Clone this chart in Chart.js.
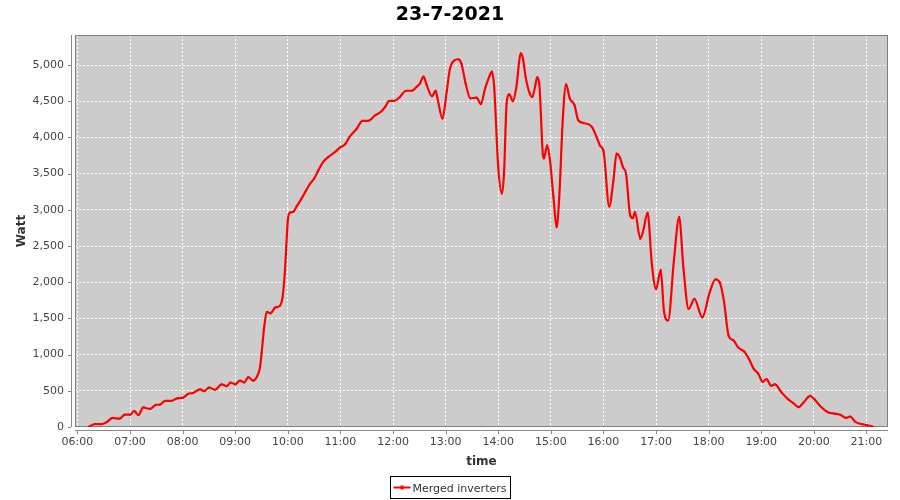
<!DOCTYPE html>
<html>
<head>
<meta charset="utf-8">
<script src="https://cdn.jsdelivr.net/npm/chart.js@4"></script>
<style>
  html, body { margin: 0; padding: 0; background: #fff; }
  canvas { display: block; }
</style>
</head>
<body>
<canvas id="chart" width="900" height="500"></canvas>
<script>
  var TITLE = "23-7-2021";
  var SERIES = "Merged inverters";
  var X_LABEL = "time";
  var Y_LABEL = "Watt";

  // time of day in hours
  var hours = [
    6.22, 6.33, 6.46, 6.56, 6.67, 6.80, 6.90, 7.00, 7.08, 7.16, 7.25, 7.38, 7.49, 7.57, 7.67, 7.79, 7.89,
    8.01, 8.11, 8.20, 8.33, 8.41, 8.50, 8.62, 8.74, 8.84, 8.91, 9.00, 9.09, 9.17, 9.25, 9.34, 9.42, 9.47,
    9.50, 9.55, 9.60, 9.67, 9.76, 9.85, 9.90, 9.94, 9.97, 10.00, 10.04, 10.10, 10.17, 10.26, 10.33, 10.42,
    10.50, 10.58, 10.67, 10.77, 10.90, 10.99, 11.09, 11.17, 11.31, 11.42, 11.53, 11.66, 11.77, 11.85, 11.93,
    12.02, 12.12, 12.25, 12.36, 12.45, 12.51, 12.58, 12.64, 12.74, 12.81, 12.84, 12.94, 13.02, 13.08, 13.16,
    13.24, 13.30, 13.38, 13.47, 13.59, 13.67, 13.75, 13.83, 13.88, 13.92, 14.00, 14.07, 14.11, 14.16, 14.21,
    14.28, 14.34, 14.43, 14.47, 14.52, 14.60, 14.65, 14.70, 14.74, 14.78, 14.85, 14.87, 14.93, 14.98, 15.05,
    15.11, 15.16, 15.23, 15.29, 15.36, 15.45, 15.52, 15.62, 15.78, 15.87, 15.94, 16.00, 16.11, 16.19, 16.25,
    16.32, 16.37, 16.43, 16.51, 16.56, 16.60, 16.70, 16.75, 16.84, 16.92, 17.00, 17.09, 17.15, 17.23, 17.34,
    17.44, 17.52, 17.62, 17.73, 17.88, 18.02, 18.13, 18.21, 18.29, 18.38, 18.47, 18.56, 18.68, 18.77, 18.86,
    18.94, 19.03, 19.10, 19.19, 19.26, 19.39, 19.51, 19.61, 19.71, 19.80, 19.93, 20.01, 20.12, 20.28, 20.39,
    20.50, 20.61, 20.69, 20.79, 20.91, 21.01, 21.12
  ];

  var watts = [
    5, 40, 40, 70, 125, 115, 170, 170, 220, 165, 270, 250, 305, 310, 360, 360, 395,
    405, 460, 470, 520, 495, 545, 515, 590, 565, 615, 590, 640, 615, 690, 640, 705, 820,
    1005, 1375, 1590, 1570, 1650, 1675, 1790, 2100, 2485, 2855, 2960, 2970, 3050, 3155, 3245, 3360,
    3430, 3545, 3660, 3730, 3800, 3860, 3905, 4005, 4120, 4230, 4230, 4305, 4355, 4420, 4505,
    4505, 4550, 4645, 4645, 4700, 4745, 4840, 4725, 4570, 4645, 4560, 4260, 4630, 4940, 5060,
    5080, 5020, 4745, 4540, 4550, 4460, 4675, 4840, 4910, 4725, 3590, 3225, 3500, 4470, 4595,
    4500, 4675, 5160, 5090, 4840, 4605, 4560, 4700, 4830, 4745, 3755, 3710, 3890, 3710, 3175,
    2760, 3175, 4285, 4735, 4540, 4445, 4240, 4200, 4145, 4005, 3880, 3820, 3045, 3405, 3775,
    3710, 3590, 3500, 2920, 2885, 2970, 2600, 2690, 2960, 2255, 1905, 2170, 1605, 1470, 2300,
    2900, 2205, 1630, 1770, 1515, 1860, 2040, 2000, 1745, 1260, 1200, 1100, 1040, 935, 800,
    740, 625, 660, 570, 590, 475, 385, 330, 275, 335, 430, 385, 290, 200, 185,
    170, 125, 145, 70, 40, 25, 5
  ];

  var xTicks = [6, 7, 8, 9, 10, 11, 12, 13, 14, 15, 16, 17, 18, 19, 20, 21];
  var yTicks = [0, 500, 1000, 1500, 2000, 2500, 3000, 3500, 4000, 4500, 5000];

  var X_MIN = 5.954, X_MAX = 21.41;
  var Y_MIN = 0, Y_MAX = 5415;

  var FONT = "DejaVu Sans";
  var TICK_COLOR = "#444444";
  var AXIS_COLOR = "#888888";

  function hhmm(v) {
    var h = Math.floor(v + 1e-6);
    var m = Math.round((v - h) * 60);
    return (h < 10 ? "0" : "") + h + ":" + (m < 10 ? "0" : "") + m;
  }

  function fixedTicks(list) {
    return function (scale) {
      scale.ticks = list.map(function (v) { return { value: v }; });
    };
  }

  var decorations = {
    id: "decorations",
    beforeDraw: function (chart) {
      var ctx = chart.ctx, a = chart.chartArea;
      ctx.save();
      ctx.fillStyle = "#ffffff";
      ctx.fillRect(0, 0, chart.width, chart.height);
      ctx.fillStyle = "#cccccc";
      ctx.fillRect(a.left, a.top, a.right - a.left, a.bottom - a.top);
      ctx.restore();
    },
    beforeDatasetsDraw: function (chart) {
      var ctx = chart.ctx, a = chart.chartArea;
      ctx.save();
      ctx.strokeStyle = "#808080";
      ctx.lineWidth = 1;
      ctx.strokeRect(a.left + 0.5, a.top + 0.5, a.right - a.left - 1, a.bottom - a.top - 1);
      ctx.restore();
    },
    afterDraw: function (chart) {
      var ctx = chart.ctx, a = chart.chartArea;
      var xs = chart.scales.x, ys = chart.scales.y;
      ctx.save();

      // axis lines sit a few pixels off the plot
      ctx.strokeStyle = AXIS_COLOR;
      ctx.lineWidth = 1;
      ctx.beginPath();
      ctx.moveTo(a.left - 3.5, a.top);
      ctx.lineTo(a.left - 3.5, a.bottom);
      ctx.moveTo(a.left, a.bottom + 3.5);
      ctx.lineTo(a.right, a.bottom + 3.5);
      xs.ticks.forEach(function (t) {
        var px = Math.round(xs.getPixelForValue(t.value)) + 0.5;
        ctx.moveTo(px, a.bottom + 4);
        ctx.lineTo(px, a.bottom + 7);
      });
      ys.ticks.forEach(function (t) {
        var py = Math.round(ys.getPixelForValue(t.value)) + 0.5;
        ctx.moveTo(a.left - 4, py);
        ctx.lineTo(a.left - 7, py);
      });
      ctx.stroke();

      // title
      ctx.fillStyle = "#000000";
      ctx.font = "bold 19px '" + FONT + "'";
      ctx.textAlign = "center";
      ctx.textBaseline = "alphabetic";
      ctx.fillText(TITLE, chart.width / 2, 20);

      // axis titles
      ctx.fillStyle = "#333333";
      ctx.font = "bold 12px '" + FONT + "'";
      ctx.fillText(X_LABEL, (a.left + a.right) / 2, 465);
      ctx.save();
      ctx.translate(25, (a.top + a.bottom) / 2);
      ctx.rotate(-Math.PI / 2);
      ctx.fillText(Y_LABEL, 0, 0);
      ctx.restore();

      // legend box
      ctx.font = "11px '" + FONT + "'";
      var tw = ctx.measureText(SERIES).width;
      var bw = Math.round(tw + 26), bh = 22;
      var bx = Math.round(chart.width / 2 - bw / 2) + 0.5, by = 476.5;
      ctx.strokeStyle = "#000000";
      ctx.strokeRect(bx, by, bw, bh);
      ctx.strokeStyle = "#ff0000";
      ctx.lineWidth = 2;
      ctx.beginPath();
      ctx.moveTo(bx + 3, by + 11);
      ctx.lineTo(bx + 20, by + 11);
      ctx.stroke();
      ctx.fillStyle = "#ff0000";
      ctx.fillRect(bx + 10, by + 9, 3, 4);
      ctx.fillStyle = "#333333";
      ctx.textAlign = "left";
      ctx.fillText(SERIES, bx + 22, by + 15.5);

      ctx.restore();
    }
  };

  var points = hours.map(function (h, i) { return { x: h, y: watts[i] }; });

  new Chart(document.getElementById("chart"), {
    type: "line",
    data: {
      datasets: [{
        label: SERIES,
        data: points,
        borderColor: "#ff0000",
        backgroundColor: "#ff0000",
        borderWidth: 2.2,
        pointRadius: 1,
        pointBorderWidth: 0,
        cubicInterpolationMode: "monotone",
        fill: false
      }]
    },
    options: {
      responsive: false,
      devicePixelRatio: 1,
      animation: false,
      events: [],
      layout: { padding: { top: 35, right: 12, bottom: 0, left: 0 } },
      plugins: { legend: { display: false }, title: { display: false }, tooltip: { enabled: false } },
      scales: {
        x: {
          type: "linear",
          min: X_MIN,
          max: X_MAX,
          afterBuildTicks: fixedTicks(xTicks),
          afterFit: function (s) { s.height = 73; },
          grid: { color: "#ffffff", lineWidth: 1, drawTicks: false },
          border: { display: false, dash: [2, 2] },
          ticks: {
            autoSkip: false,
            maxRotation: 0,
            padding: 9,
            color: TICK_COLOR,
            font: { family: FONT, size: 11 },
            callback: function (v) { return hhmm(v); }
          }
        },
        y: {
          min: Y_MIN,
          max: Y_MAX,
          afterBuildTicks: fixedTicks(yTicks),
          afterFit: function (s) { s.width = 75; },
          grid: { color: "#ffffff", lineWidth: 1, drawTicks: false },
          border: { display: false, dash: [2, 2] },
          ticks: {
            autoSkip: false,
            padding: 11,
            color: TICK_COLOR,
            font: { family: FONT, size: 11 },
            callback: function (v) { return v.toLocaleString("en-US"); }
          }
        }
      }
    },
    plugins: [decorations]
  });
</script>
</body>
</html>
